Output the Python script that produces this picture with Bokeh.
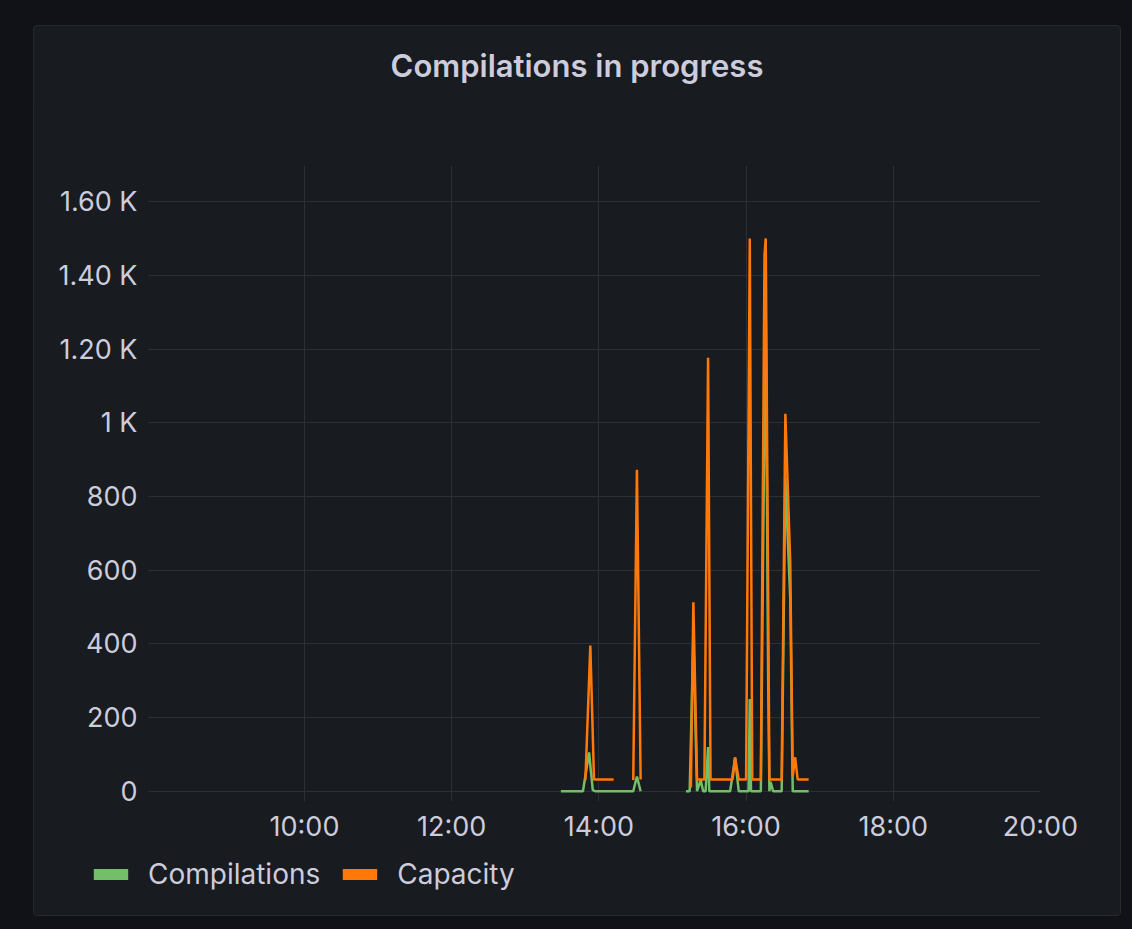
import pandas as pd
import numpy as np
from bokeh.plotting import figure
from bokeh.models import (Range1d, FixedTicker, DatetimeTickFormatter, Legend, LegendItem,
                          Div, ColumnDataSource)
from bokeh.layouts import column
from bokeh.embed import file_html
from bokeh.resources import INLINE

DAY = "2024-05-14 "

title_text = "Compilations in progress"
series_names = ["Compilations", "Capacity"]
series_colors = ["#73bf69", "#ff780a"]

comp_times = ["13:29", "13:47", "13:52", "13:55", "13:57", "14:28", "14:31", "14:34", "14:50",
              "15:11", "15:14", "15:17", "15:20", "15:23", "15:25", "15:27", "15:29", "15:30",
              "15:47", "15:51", "15:54", "15:59", "16:02", "16:03", "16:04", "16:12", "16:14",
              "16:16", "16:18", "16:19", "16:20", "16:22", "16:29", "16:32", "16:36", "16:38",
              "16:42", "16:51"]
comp_vals = [0, 0, 105, 3, 0, 0, 40, 0, None,
             0, 0, 420, 0, 30, 0, 0, 120, 0,
             0, 90, 0, 0, 0, 250, 0, 0, 700,
             1300, 300, 0, 25, 0, 0, 850, 520, 0,
             0, 0]

cap_times = ["13:49", "13:53", "13:56", "14:12", "14:20", "14:28", "14:31", "14:34", "14:50",
             "15:15", "15:17", "15:20", "15:26", "15:29", "15:31", "15:49", "15:51", "15:54",
             "16:00", "16:03", "16:05", "16:12", "16:15", "16:16", "16:19", "16:29", "16:32",
             "16:36", "16:38", "16:40", "16:42", "16:51"]
cap_vals = [30, 395, 32, 32, None, 30, 872, 32, None,
            10, 513, 32, 32, 1176, 32, 32, 92, 32,
            32, 1500, 32, 32, 1455, 1500, 32, 32, 1024,
            620, 40, 92, 32, 32]

x_tick_labels = ["10:00", "12:00", "14:00", "16:00", "18:00", "20:00"]
y_ticks = [0, 200, 400, 600, 800, 1000, 1200, 1400, 1600]
y_tick_labels = ["0", "200", "400", "600", "800", "1 K", "1.20 K", "1.40 K", "1.60 K"]
x_start, x_end = "07:52", "20:00"
y_start, y_end = -28, 1698


def to_dt(ts):
    return pd.to_datetime([DAY + t for t in ts])


def to_vals(vs):
    return np.array([np.nan if v is None else v for v in vs], dtype=float)


def ms(t):
    return pd.Timestamp(DAY + t).value / 1e6


FONT = "Inter"
TXT = "#ccccdc"
PANEL = "#181b1f"
W = 1086

title = Div(text=(f'<div style="width:{W}px;text-align:center;font-family:Inter;'
                  f'font-size:31px;font-weight:600;color:{TXT};line-height:80px;">'
                  f'{title_text}</div>'),
            width=W, height=80, margin=0)

p = figure(width=W, height=739, x_axis_type="datetime",
           output_backend="svg", toolbar_location=None,
           x_range=Range1d(ms(x_start), ms(x_end)), y_range=Range1d(y_start, y_end),
           background_fill_color=PANEL, border_fill_color=PANEL,
           min_border_left=113, min_border_right=80, min_border_top=59, min_border_bottom=42)
p.outline_line_color = None
p.frame_align = False

p.xaxis.ticker = FixedTicker(ticks=[ms(t) for t in x_tick_labels])
p.xaxis.formatter = DatetimeTickFormatter(hours="%H:%M", days="%H:%M", minutes="%H:%M")
p.yaxis.ticker = FixedTicker(ticks=y_ticks)
p.yaxis.major_label_overrides = {v: l for v, l in zip(y_ticks, y_tick_labels)}

for ax in (p.xaxis, p.yaxis):
    ax.axis_line_color = None
    ax.major_tick_line_color = None
    ax.minor_tick_line_color = None
    ax.major_tick_out = 0
    ax.major_tick_in = 0
    ax.major_label_text_font = FONT
    ax.major_label_text_font_size = "27px"
    ax.major_label_text_color = TXT
p.xaxis.major_label_standoff = 8
p.yaxis.major_label_standoff = 10

p.grid.grid_line_color = "#2c2f35"
p.grid.grid_line_width = 1

p.line(to_dt(comp_times), to_vals(comp_vals), line_color=series_colors[0], line_width=2.5)
p.line(to_dt(cap_times), to_vals(cap_vals), line_color=series_colors[1], line_width=2.5)

# legend strip below the chart
leg = figure(width=W, height=70, output_backend="svg", toolbar_location=None,
             x_range=Range1d(0, 1), y_range=Range1d(0, 1),
             x_axis_location=None, y_axis_location=None, min_border=0,
             min_border_left=0, min_border_right=0, min_border_top=0, min_border_bottom=0,
             background_fill_color=PANEL, border_fill_color=PANEL)
leg.outline_line_color = None
leg.grid.visible = False
leg.frame_align = False

items = []
for name, col in zip(series_names, series_colors):
    src = ColumnDataSource(dict(l=[np.nan], r=[np.nan], t=[np.nan], b=[np.nan]))
    rr = leg.quad(left="l", right="r", top="t", bottom="b", source=src,
                  fill_color=col, line_color=None)
    items.append(LegendItem(label=name, renderers=[rr]))

legend = Legend(items=items, orientation="horizontal", location=(55, 24),
                background_fill_alpha=0, border_line_color=None,
                glyph_width=43, glyph_height=14, label_standoff=16, spacing=18,
                padding=0, margin=0, label_height=30,
                label_text_font=FONT, label_text_font_size="28px", label_text_color=TXT)
leg.add_layout(legend, "center")

panel = column(title, p, leg, spacing=0,
               styles={"background-color": PANEL, "border": "1px solid #262930",
                       "border-radius": "4px", "overflow": "hidden"})
root = column(panel, styles={"background-color": "#111217", "padding": "25px 11px 13px 33px"})

open("out.html", "w").write(file_html(root, INLINE))
